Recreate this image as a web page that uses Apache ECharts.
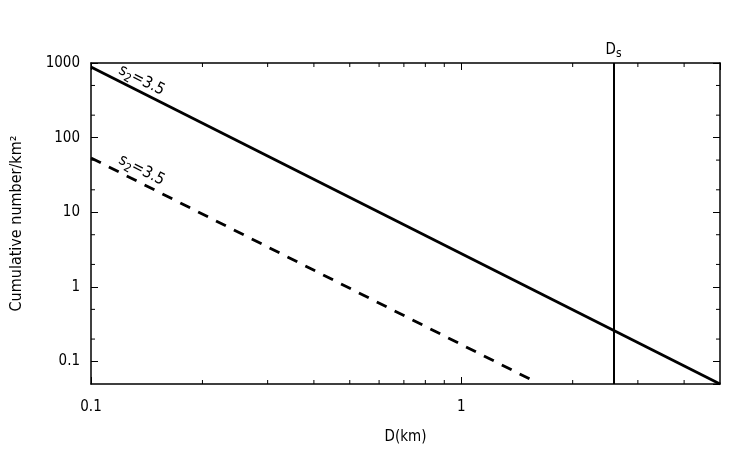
<!DOCTYPE html>
<html>
<head>
<meta charset="utf-8">
<script src="https://cdn.jsdelivr.net/npm/echarts@6/dist/echarts.min.js"></script>
<style>
html, body { margin: 0; background: #fff; }
#chart { width: 750px; height: 450px; }
</style>
</head>
<body>
<div id="chart"></div>
<script>
// two power laws with cumulative slope -2.5
const solidLine = [[0.1, 884], [5, 0.05]];
const dashedLine = [[0.1, 53.5], [1.58, 0.054]];
const dsValue = 2.58;
const slopeText = "s2=3.5";
const solidLabelAt = [0.137, 585];
const dashedLabelAt = [0.137, 36.5];
const xMinorTicks = [0.2, 0.3, 0.4, 0.5, 0.6, 0.7, 0.8, 0.9, 2, 3, 4];
const yMinorTicks = [0.2, 0.5, 2, 5, 20, 50, 200, 500];

const FONT = "'DejaVu Sans Condensed', 'DejaVu Sans', sans-serif";
const X_MIN = 0.1, X_MAX = 5, Y_MIN = 0.05, Y_MAX = 1000;

const chart = echarts.init(document.getElementById("chart"));

const slopeRich = {
	m: { fontSize: 16, fontFamily: FONT, color: "#000", lineHeight: 22 },
	b: { fontSize: 12, fontFamily: FONT, color: "#000", lineHeight: 12, verticalAlign: "bottom" },
};
const slopeFormatter = () => `{m|${slopeText[0]}}{b|${slopeText[1]}}{m|${slopeText.slice(2)}}`;
const plainNumber = (v) => String(+Number(v).toPrecision(6));

function labelPoint(at) {
	return {
		symbol: "circle",
		symbolSize: 0,
		silent: true,
		data: [{ coord: at, value: slopeText }],
		label: {
			show: true,
			position: "inside",
			rotate: -27,
			formatter: slopeFormatter,
			rich: slopeRich,
		},
	};
}

// minor ticks on all four sides, placed through the axes' own log scale
function minorTicks(values, dir) {
	return {
		type: "custom",
		xAxisIndex: 0,
		yAxisIndex: 0,
		silent: true,
		z: 5,
		data: values.map((v) => (dir === "x" ? [v, 1] : [1, v])),
		renderItem(params, api) {
			const cs = params.coordSys;
			const p = api.coord([api.value(0), api.value(1)]);
			const len = 4;
			const style = { stroke: "#000", lineWidth: 1 };
			const lines =
				dir === "x"
					? [
							{ x1: p[0], y1: cs.y + cs.height, x2: p[0], y2: cs.y + cs.height - len },
							{ x1: p[0], y1: cs.y, x2: p[0], y2: cs.y + len },
						]
					: [
							{ x1: cs.x, y1: p[1], x2: cs.x + len, y2: p[1] },
							{ x1: cs.x + cs.width, y1: p[1], x2: cs.x + cs.width - len, y2: p[1] },
						];
			return {
				type: "group",
				children: lines.map((shape) => ({ type: "line", shape, style })),
			};
		},
	};
}

const axisLine = { show: true, lineStyle: { color: "#000", width: 1.5 } };
const axisTick = { show: true, inside: true, length: 7, lineStyle: { color: "#000", width: 1 } };
const tickFont = { color: "#000", fontSize: 15, fontFamily: FONT };

chart.setOption({
	animation: false,
	backgroundColor: "#fff",
	grid: { left: 91, right: 30, top: 63, bottom: 66 },
	xAxis: [
		{
			type: "log",
			logBase: 10,
			min: X_MIN,
			max: X_MAX,
			axisLine,
			axisTick,
			splitLine: { show: false },
			axisLabel: { ...tickFont, margin: 16, showMaxLabel: false, formatter: plainNumber },
			name: "D(km)",
			nameLocation: "middle",
			nameGap: 46,
			nameTextStyle: { color: "#000", fontSize: 15, fontFamily: FONT },
		},
		{
			type: "log",
			logBase: 10,
			min: X_MIN,
			max: X_MAX,
			position: "top",
			axisLine,
			axisTick,
			splitLine: { show: false },
			axisLabel: { show: false },
		},
	],
	yAxis: [
		{
			type: "log",
			logBase: 10,
			min: Y_MIN,
			max: Y_MAX,
			axisLine,
			axisTick,
			splitLine: { show: false },
			axisLabel: { ...tickFont, margin: 11, showMinLabel: false, formatter: plainNumber },
			name: "Cumulative number/km²",
			nameLocation: "middle",
			nameGap: 66,
			nameTextStyle: { color: "#000", fontSize: 16, fontFamily: FONT },
		},
		{
			type: "log",
			logBase: 10,
			min: Y_MIN,
			max: Y_MAX,
			position: "right",
			axisLine,
			axisTick,
			splitLine: { show: false },
			axisLabel: { show: false },
		},
	],
	series: [
		{
			name: "solid",
			type: "line",
			data: solidLine,
			symbol: "none",
			lineStyle: { color: "#000", width: 2.8 },
			markLine: {
				symbol: "none",
				silent: true,
				data: [{ xAxis: dsValue }],
				lineStyle: { color: "#000", width: 2, type: "solid" },
				label: {
					show: true,
					position: "end",
					distance: 3,
					formatter: "{d|D}{s|s}",
					rich: {
						d: { fontSize: 15, fontFamily: FONT, color: "#000", lineHeight: 19 },
						s: { fontSize: 12, fontFamily: FONT, color: "#000", lineHeight: 12, verticalAlign: "bottom" },
					},
				},
			},
			markPoint: labelPoint(solidLabelAt),
		},
		{
			name: "dashed",
			type: "line",
			data: dashedLine,
			symbol: "none",
			lineStyle: { color: "#000", width: 2.8, type: [11, 9] },
			markPoint: labelPoint(dashedLabelAt),
		},
		minorTicks(xMinorTicks, "x"),
		minorTicks(yMinorTicks, "y"),
	],
});
</script>
</body>
</html>
